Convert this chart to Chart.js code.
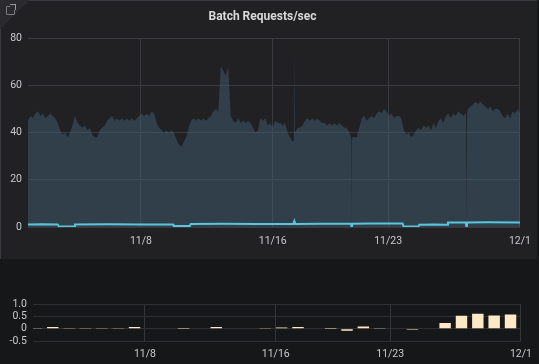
<!DOCTYPE html>
<html><head><meta charset="utf-8">
<script src="https://cdn.jsdelivr.net/npm/chart.js@4.4.1/dist/chart.umd.min.js"></script>
<style>
html,body{margin:0;padding:0;background:#161719;width:539px;height:364px;overflow:hidden;font-family:Roboto,sans-serif;}
#toppanel{position:absolute;left:0;top:0;width:537px;height:259px;background:#212124;box-shadow:inset 1px 1px 0 #3b3b3f;}
#corner{position:absolute;left:0;top:0;width:30px;height:30px;background:linear-gradient(135deg,#2b2b2f 50%,rgba(0,0,0,0) 50%);}
#icon{position:absolute;left:6px;top:6px;width:7px;height:7px;border:1px solid #7b7b80;border-radius:1px;}
#icon2{position:absolute;left:10px;top:4px;width:5px;height:5px;border-top:1px solid #9a9aa0;border-right:1px solid #9a9aa0;background:#2b2b2f;}
#c1{position:absolute;left:0;top:0;}
#c2{position:absolute;left:0;top:259px;}
</style></head>
<body>
<div id="toppanel"><div id="corner"></div><div id="icon"></div><div id="icon2"></div></div>
<canvas id="c1" width="539" height="259"></canvas>
<canvas id="c2" width="539" height="105"></canvas>
<script>
// x values are days since 11/1 00:00
const tickDays = [7, 15, 22, 30];
const tickLabels = ['11/8', '11/16', '11/23', '12/1'];
const topYTicks = [0, 20, 40, 60, 80];

// Batch requests/sec (area), sampled every 0.15 day from day 0.15
const areaStart = 0.15;
const areaStep = 0.15;
const areaValues = [
  45,47,46,48,49,47,48,46,47,48,
  47,46,44,41,39,40,38,40,43,47,
  44,43,42,43,41,42,39,38,38,41,
  42,43,45,46,47,45,46,45,46,45,
  46,45,46,45,46,47,48,47,48,47,
  49,48,44,42,41,40,41,40,41,40,
  37,35,34,36,38,42,45,46,45,46,
  45,46,45,46,47,49,50,49,68,66,
  64,68,47,45,44,46,44,45,44,45,
  44,42,40,41,46,45,46,43,44,42,
  45,44,44,43,44,40,38,36,40,42,
  42,43,45,46,45,46,45,46,45,44,
  44,43,44,43,44,43,44,43,42,42,
  40,37,38,38,42,46,47,45,46,47,
  46,48,49,48,50,49,47,48,46,47,
  47,46,41,39,40,38,39,41,42,41,
  43,42,43,41,44,42,45,46,44,47,
  48,46,48,47,49,48,47,48,50,51,
  52,53,52,53,52,51,50,51,49,50,
  50,49,47,46,48,46,49,48,50,48
];
// short spikes / dropouts of the area series
const spikeDays   = [16.28, 16.31, 16.34, 19.76, 19.79, 19.82, 26.73, 26.76, 26.79];
const spikeValues = [37, 74, 40, 38, 0, 38, 48, 0, 48];

// cyan series
const lineDays   = [0.15, 1.0, 1.95, 2.02, 2.5, 2.95, 3.0, 5.0, 7.0, 8.95, 9.0, 9.5, 9.97, 10.02, 12.0, 14.0, 16.25, 16.31, 16.37, 18.0, 19.75, 19.79, 19.83, 21.0, 22.88, 22.93, 23.4, 23.85, 23.9, 24.8, 25.58, 25.63, 26.72, 26.76, 26.8, 28.0, 30.0];
const lineValues = [1.1, 1.2, 1.1, 0.3, 0.2, 0.3, 1.1, 1.2, 1.1, 1.1, 0.4, 0.4, 0.4, 1.3, 1.4, 1.3, 1.3, 2.5, 1.3, 1.4, 1.4, -0.6, 1.4, 1.5, 1.5, 0.3, 0.2, 0.3, 1.0, 1.1, 1.0, 1.9, 1.9, -0.8, 1.9, 2.0, 1.9];

// bottom bar panel
const barDays = [0.36,1.36,2.36,3.36,4.36,5.36,6.36,7.36,8.36,9.36,10.36,11.36,12.36,13.36,14.36,15.36,16.36,17.36,18.36,19.36,20.36,21.36,22.36,23.36,24.36,25.36,26.36,27.36,28.36,29.36,30.36];
const barValues = [0.01,0.08,0.01,0.01,0.01,0.01,0.08,0.02,0,0.005,0.02,0.08,0.02,0,0.01,0.05,0.08,0,0.005,-0.08,0.1,0.03,0,-0.04,0,0.24,0.53,0.61,0.54,0.58,1.0];
const botYTicks = [-0.5, 0, 0.5, 1.0];
const botYLabels = ['-0.5', '0', '0.5', '1.0'];

const areaData = areaValues.map((v, i) => ({x: areaStart + i * areaStep, y: v}))
  .concat(spikeDays.map((d, i) => ({x: d, y: spikeValues[i]})))
  .sort((a, b) => a.x - b.x);
const lineData = lineDays.map((d, i) => ({x: d, y: lineValues[i]}));
const barData = barDays.map((d, i) => ({x: d, y: barValues[i]}));

const labelColor = '#c8c9cc';
const tickFont = {family: 'Roboto', size: 10.5};

new Chart(document.getElementById('c1'), {
  type: 'line',
  data: {datasets: [
    {label: 'line', data: lineData, borderColor: '#5ac6de', borderWidth: 2, pointRadius: 0, fill: false, tension: 0, order: 0},
    {label: 'area', data: areaData, borderColor: 'rgba(0,0,0,0)', borderWidth: 0, backgroundColor: 'rgba(72,105,130,0.42)', fill: 'origin', pointRadius: 0, tension: 0, order: 1}
  ]},
  options: {
    responsive: false, animation: false, devicePixelRatio: 1,
    layout: {padding: {left: 0, right: 14, top: 0, bottom: 0}},
    plugins: {
      legend: {display: false}, tooltip: {enabled: false},
      title: {display: true, text: 'Batch Requests/sec', color: '#d8d9da', font: {family: 'Roboto', size: 12, weight: 'bold'}, padding: {top: 9.3, bottom: 14.3}}
    },
    scales: {
      x: {type: 'linear', min: 0.15, max: 30,
        afterBuildTicks: s => { s.ticks = tickDays.map(v => ({value: v})); },
        afterFit: s => { s.height = 32; },
        ticks: {callback: v => tickLabels[tickDays.indexOf(v)], color: labelColor, font: tickFont, padding: 8, maxRotation: 0, autoSkip: false},
        grid: {color: '#3a3a3e', drawTicks: false}, border: {display: false}},
      y: {min: 0, max: 80,
        afterBuildTicks: s => { s.ticks = topYTicks.map(v => ({value: v})); },
        afterFit: s => { s.width = 28; },
        ticks: {color: labelColor, font: tickFont, padding: 6, autoSkip: false},
        grid: {color: '#3a3a3e', drawTicks: false}, border: {display: false}}
    }
  }
});

new Chart(document.getElementById('c2'), {
  type: 'bar',
  data: {datasets: [
    {label: 'bars', data: barData, backgroundColor: '#fde9c6', barPercentage: 0.7, categoryPercentage: 1, clip: 0}
  ]},
  options: {
    responsive: false, animation: false, devicePixelRatio: 1,
    layout: {padding: {left: 0, right: 13, top: 45, bottom: 0}},
    plugins: {legend: {display: false}, tooltip: {enabled: false}},
    scales: {
      x: {type: 'linear', min: 0.15, max: 30, offset: false,
        afterBuildTicks: s => { s.ticks = tickDays.map(v => ({value: v})); },
        afterFit: s => { s.height = 22.7; },
        ticks: {callback: v => tickLabels[tickDays.indexOf(v)], color: labelColor, font: tickFont, padding: 7, maxRotation: 0, autoSkip: false},
        grid: {color: '#35353a', drawTicks: false, offset: false}, border: {display: false}},
      y: {min: -0.5, max: 1.0,
        afterBuildTicks: s => { s.ticks = botYTicks.map(v => ({value: v})); },
        afterFit: s => { s.width = 33; },
        ticks: {callback: v => botYLabels[botYTicks.indexOf(v)], color: labelColor, font: tickFont, padding: 6, autoSkip: false},
        grid: {color: '#2e2e33', drawTicks: false}, border: {display: false}}
    }
  }
});
</script>
</body></html>
